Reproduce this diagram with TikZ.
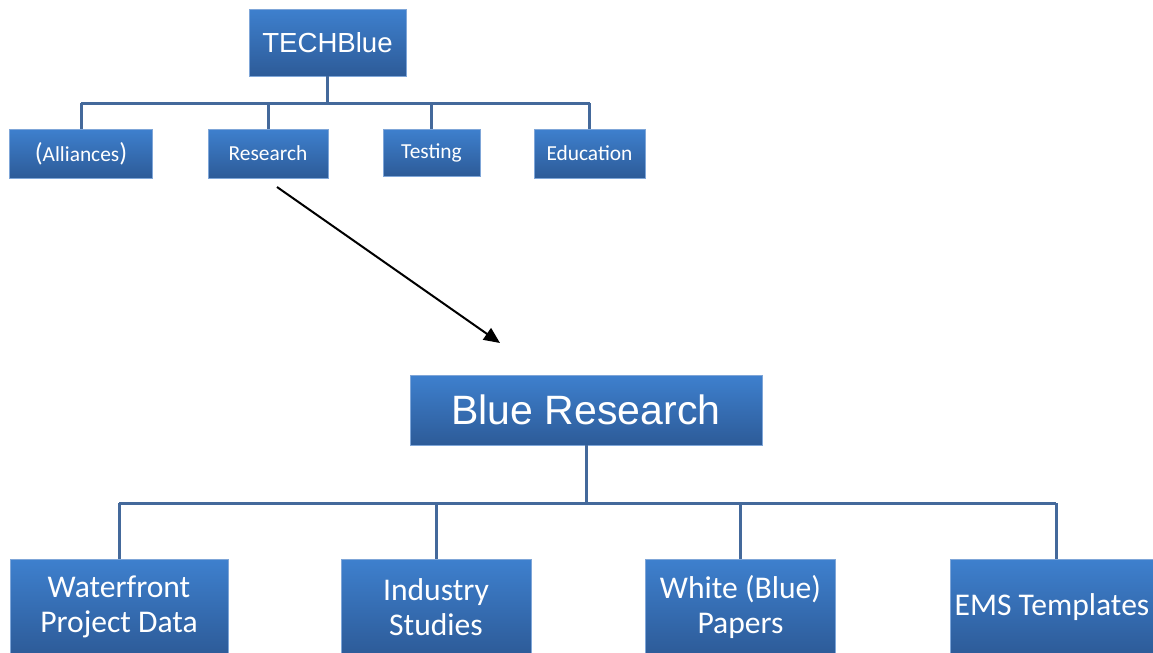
\documentclass[tikz,border=0pt]{standalone}
\usepackage{fontspec}
\setmainfont{Carlito}
\newfontfamily\arialfont{Liberation Sans}
\usetikzlibrary{arrows.meta}
\definecolor{boxtop}{HTML}{3E80CE}
\definecolor{boxbot}{HTML}{2D5B98}
\definecolor{boxedge}{HTML}{7FA6D8}
\definecolor{lineblue}{HTML}{44699B}
\newcommand{\smallsize}{\fontsize{10.7}{12}\selectfont}
\newcommand{\bigsize}{\fontsize{15.8}{17.2}\selectfont}

\begin{document}
\begin{tikzpicture}[x=0.5pt,y=-0.5pt,
    box/.style={draw=boxedge, line width=.4pt, top color=boxtop, bottom color=boxbot,
      text=white, align=center, inner sep=0pt},
    small/.style={box, font=\smallsize},
    big/.style={box, font=\bigsize, minimum height=48pt},
    conn/.style={draw=lineblue, line width=1.5pt}]
\useasboundingbox (0,0) rectangle (1153,653);
        % top chart
        \node (tech) at (327.5,42.5) [box, font=\arialfont\fontsize{13.8}{15}\selectfont, minimum width=78.5pt, minimum height=33.5pt] {TECHBlue};
        \node (alli) at (81,153.5) [small, minimum width=71.5pt, minimum height=24.5pt] {{\fontsize{13}{13}\selectfont(}Alliances{\fontsize{13}{13}\selectfont)}};
        \node (res) at (268,153.5) [small, minimum width=60pt, minimum height=24.5pt] {Research};
        \node (test) at (431.5,152.5) [small, minimum width=48.5pt, minimum height=23.5pt] {Testing};
        \node (edu) at (589.5,153.5) [small, minimum width=55.5pt, minimum height=24.5pt] {Education};
        \coordinate (bus1) at (327.5,103);
        \draw[conn] (tech.south) -- (bus1);
        \draw[conn] (bus1 -| alli.north) -- (bus1 -| edu.north);
        \foreach \n in {alli,res,test,edu}
          \draw[conn] (bus1 -| \n.north) -- (\n.north);

        % arrow
        \coordinate (arrfrom) at (277,187);
        \coordinate (arrto) at (500,343);
        \draw[line width=1pt, -{Triangle[length=8pt,width=7pt]}] (arrfrom) -- (arrto);

        % bottom chart
        \node (blue) at (586,410) [box, font=\arialfont\fontsize{20.5}{22}\selectfont, minimum width=176pt, minimum height=35pt] {Blue Research};
        \node (water) at (119,607) [big, minimum width=109pt] {Waterfront\\Project Data};
        \node (ind) at (436,607) [big, minimum width=95pt] {Industry\\Studies};
        \node (white) at (740.5,607) [big, minimum width=95pt] {White (Blue)\\Papers};
        \node (ems) at (1052,607) [big, minimum width=102pt] {EMS Templates};
        \coordinate (bus2) at (586,503);
        \coordinate (emstop) at (1056,559);
        \draw[conn] (blue.south) -- (bus2);
        \draw[conn] (bus2 -| water.north) -- (bus2 -| emstop);
        \foreach \n in {water,ind,white}
          \draw[conn] (bus2 -| \n.north) -- (\n.north);
        \draw[conn] (bus2 -| emstop) -- (emstop);
\end{tikzpicture}
\end{document}
